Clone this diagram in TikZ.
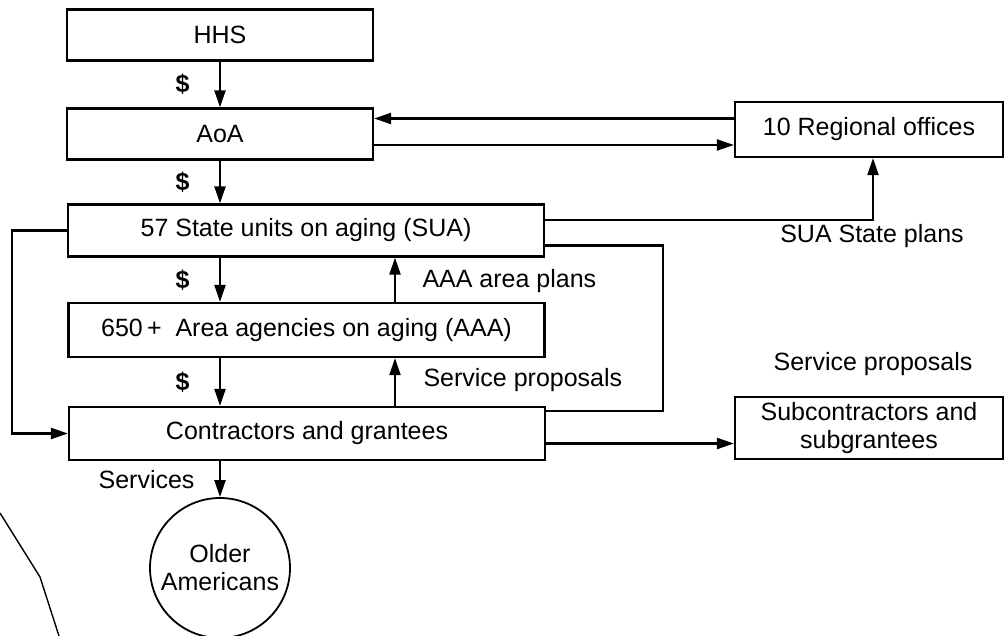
\documentclass[tikz,border=0pt]{standalone}
\usepackage{fontspec}
\setmainfont{Liberation Sans}
\usetikzlibrary{arrows.meta}

\begin{document}
\begin{tikzpicture}[
  x=1pt, y=-1pt,
  every node/.style={font=\fontsize{25}{28}\selectfont},
  box/.style={draw, line width=2.2pt, inner sep=0pt, align=center},
  top/.style={box, minimum width=306pt, minimum height=51pt},
  wide/.style={box, minimum width=476pt, minimum height=52pt},
  side/.style={box, minimum width=268pt},
  arr/.style={-{Triangle[length=17pt,width=11pt]}, line width=2.2pt},
  ln/.style={line width=2.2pt},
  money/.style={font=\fontsize{25}{28}\selectfont\bfseries}
]
\useasboundingbox (0,0) rectangle (1006,636);

% ---------------- main column ----------------
\node[top] (hhs) at (220,35) {HHS};
\node[top] (aoa) at (220,134) {AoA};
\node[wide] (sua) at (306,230.5) {57 State units on aging (SUA)};
\node[wide, minimum height=54pt] (aaa) at (306.5,330) {650\,+\ \ Area agencies on aging (AAA)};
\node[wide, minimum height=53pt] (con) at (307,433.5) {Contractors and grantees};
\node[box, circle, line width=1.8pt, minimum size=140pt] (old) at (220,568) {Older\\Americans};

% ---------------- right side ----------------
\node[side, minimum height=55pt] (reg) at (869,129.5) {10 Regional offices};
\node[side, minimum height=62pt] (sub) at (869,428) {Subcontractors and\\subgrantees};

% helper columns
\coordinate (lft) at (12,0);
\coordinate (upx) at (395,0);
\coordinate (rgt) at (663,0);

% ---------------- money flow ----------------
\draw[arr] (hhs) -- node[money, left=26pt] {\$} (aoa);
\draw[arr] (aoa.south) -- node[money, left=26pt] {\$} (sua.north -| aoa.south);
\draw[arr] (sua.south -| aoa.south) -- node[money, left=26pt] {\$} (aaa.north -| aoa.south);
\draw[arr] (aaa.south -| aoa.south) -- node[money, left=26pt] {\$} (con.north -| aoa.south);
\draw[arr] (con.south -| old.north) -- (old.north);
\node[anchor=east] (srv) at (198,480) {Services};

% ---------------- plans and proposals ----------------
\draw[arr] (aaa.north -| upx) -- (sua.south -| upx);
\node[anchor=west] (aap) at (419,281) {AAA area plans};
\draw[arr] (con.north -| upx) -- (aaa.south -| upx);
\node[anchor=west] (spl) at (420,380) {Service proposals};

% ---------------- links to the right ----------------
\draw[arr] ([yshift=11pt]reg.west) -- ([yshift=11pt]reg.west -| aoa.east);
\draw[arr] ([yshift=-11pt]aoa.east) -- ([yshift=-11pt]aoa.east -| reg.west);
\draw[arr] ([yshift=-17pt]sua.north east) -| ([xshift=4pt]reg.south);
\node (sstp) at (872,236) {SUA State plans};
\draw[ln] ([yshift=12pt]sua.south east) -- ([yshift=12pt]sua.south east -| rgt) |- ([yshift=-5pt]con.north east);
\draw[arr] ([yshift=-10pt]con.east) -- ([yshift=-10pt]con.east -| sub.west);
\node (spr) at (873,364) {Service proposals};

% ---------------- loop on the left ----------------
\draw[arr] (sua.west) -- (sua.west -| lft) |- (con.west);

% page edge
\draw[line width=1.4pt] (0,513) -- (40,577) -- (59,636);

\end{tikzpicture}
\end{document}
